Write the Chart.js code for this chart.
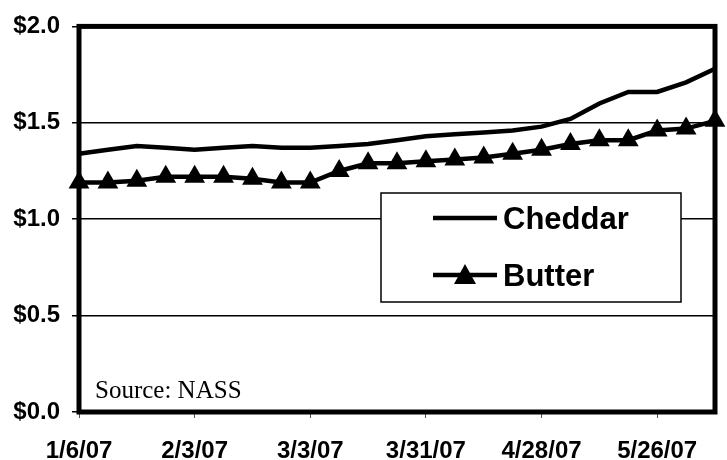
<!DOCTYPE html>
<html>
<head>
<meta charset="utf-8">
<script src="https://cdn.jsdelivr.net/npm/chart.js@4/dist/chart.umd.min.js"></script>
<style>
  html, body { margin: 0; padding: 0; background: #fff; }
  #wrap { width: 727px; height: 460px; position: relative; }
</style>
</head>
<body>
<div id="wrap"><canvas id="chart" width="727" height="460"></canvas></div>
<script>
// weekly dates, 2007
const weeks = [
  "1/6/07", "1/13/07", "1/20/07", "1/27/07", "2/3/07", "2/10/07", "2/17/07", "2/24/07",
  "3/3/07", "3/10/07", "3/17/07", "3/24/07", "3/31/07", "4/7/07", "4/14/07", "4/21/07",
  "4/28/07", "5/5/07", "5/12/07", "5/19/07", "5/26/07", "6/2/07", "6/9/07"
];
const cheddar = [
  1.34, 1.36, 1.38, 1.37, 1.36, 1.37, 1.38, 1.37, 1.37, 1.38, 1.39, 1.41,
  1.43, 1.44, 1.45, 1.46, 1.48, 1.52, 1.60, 1.66, 1.66, 1.71, 1.78
];
const butter = [
  1.19, 1.19, 1.20, 1.22, 1.22, 1.22, 1.21, 1.19, 1.19, 1.25, 1.29, 1.29,
  1.30, 1.31, 1.32, 1.34, 1.36, 1.39, 1.41, 1.41, 1.46, 1.47, 1.51
];
const yTicks = [0, 0.5, 1.0, 1.5, 2.0];
const sourceNote = "Source: NASS";

const frame = {
  id: "frame",
  beforeDatasetsDraw(chart) {
    const { ctx, chartArea: a } = chart;
    ctx.save();
    ctx.strokeStyle = "#000";
    ctx.lineWidth = 5;
    ctx.strokeRect(a.left, a.top, a.right - a.left, a.bottom - a.top);
    ctx.fillStyle = "#000";
    ctx.font = "25px 'Liberation Serif', 'Times New Roman', serif";
    ctx.textAlign = "left";
    ctx.textBaseline = "alphabetic";
    ctx.fillText(sourceNote, 95, 398);
    ctx.restore();
  },
  afterDatasetsDraw(chart) {
    const { ctx } = chart;
    ctx.save();
    // legend box
    ctx.fillStyle = "#fff";
    ctx.fillRect(381, 193, 300, 109);
    ctx.strokeStyle = "#000";
    ctx.lineWidth = 1.5;
    ctx.strokeRect(381, 193, 300, 109);
    ctx.lineWidth = 4.5;
    ctx.beginPath();
    ctx.moveTo(433, 218); ctx.lineTo(497, 218);
    ctx.moveTo(433, 275); ctx.lineTo(497, 275);
    ctx.stroke();
    ctx.fillStyle = "#000";
    ctx.beginPath();
    ctx.moveTo(465, 264); ctx.lineTo(476, 284); ctx.lineTo(454, 284);
    ctx.closePath();
    ctx.fill();
    ctx.font = "bold 31px 'Liberation Sans', Arial, sans-serif";
    ctx.textAlign = "left";
    ctx.textBaseline = "middle";
    chart.data.datasets.forEach((ds, i) => {
      ctx.fillText(ds.label, 503, i === 0 ? 220 : 277);
    });
    ctx.restore();
  }
};

new Chart(document.getElementById("chart"), {
  type: "line",
  data: {
    labels: weeks,
    datasets: [
      {
        label: "Cheddar",
        data: cheddar,
        borderColor: "#000",
        borderWidth: 4.5,
        pointRadius: 0,
        tension: 0,
        fill: false
      },
      {
        label: "Butter",
        data: butter,
        borderColor: "#000",
        backgroundColor: "#000",
        borderWidth: 4.5,
        pointStyle: "triangle",
        pointRadius: 12,
        pointBorderWidth: 0,
        pointBackgroundColor: "#000",
        tension: 0,
        fill: false
      }
    ]
  },
  options: {
    responsive: false,
    animation: false,
    layout: { padding: { top: 23, right: 8, left: 0, bottom: 0 } },
    plugins: {
      legend: { display: false },
      tooltip: { enabled: false }
    },
    scales: {
      x: {
        offset: false,
        afterFit(scale) { scale.height = 48; },
        grid: {
          drawOnChartArea: false,
          drawTicks: true,
          tickLength: 6,
          color: "#555",
          lineWidth: 1
        },
        border: { display: false },
        ticks: {
          autoSkip: false,
          maxRotation: 0,
          padding: 19,
          color: "#000",
          font: { family: "'Liberation Sans', Arial, sans-serif", size: 24, weight: "bold" },
          callback(v, i) { return i % 4 === 0 ? weeks[i] : null; }
        }
      },
      y: {
        min: yTicks[0],
        max: yTicks[yTicks.length - 1],
        afterFit(scale) { scale.width = 79; },
        afterBuildTicks(scale) { scale.ticks = yTicks.map(v => ({ value: v })); },
        grid: {
          color: "#000",
          lineWidth: 1.5,
          tickLength: 7
        },
        border: { display: false },
        ticks: {
          padding: 12,
          color: "#000",
          font: { family: "'Liberation Sans', Arial, sans-serif", size: 24, weight: "bold" },
          callback(v) { return "$" + Number(v).toFixed(1); }
        }
      }
    }
  },
  plugins: [frame]
});
</script>
</body>
</html>
